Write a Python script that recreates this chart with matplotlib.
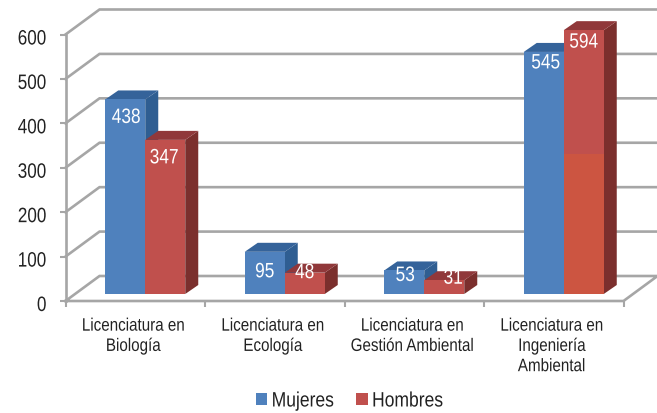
import matplotlib
matplotlib.use('Agg')
import matplotlib.pyplot as plt
from matplotlib.patches import Polygon
from matplotlib.patheffects import AbstractPathEffect
from matplotlib.transforms import Affine2D

plt.rcParams['font.family'] = ['Liberation Sans', 'DejaVu Sans']

categorias = ['Licenciatura en\nBiología', 'Licenciatura en\nEcología',
              'Licenciatura en\nGestión Ambiental', 'Licenciatura en\nIngeniería\nAmbiental']
mujeres = [438, 95, 53, 545]
hombres = [347, 48, 31, 594]
ticks_y = [0, 100, 200, 300, 400, 500, 600]


# the original font is a narrow arial, not installed here: squeeze the glyphs sideways
class Estrecho(AbstractPathEffect):
    def __init__(self, escala, ancla='center', baja=0):
        super().__init__()
        self.escala = escala
        self.ancla = ancla
        self.baja = baja

    def draw_path(self, renderer, gc, tpath, affine, rgbFace=None):
        ext = tpath.get_extents()
        cx = {'left': ext.x0, 'center': (ext.x0 + ext.x1) / 2, 'right': ext.x1}[self.ancla]
        t = Affine2D().translate(-cx, 0).scale(self.escala, 1).translate(cx, 0) + affine
        t = t + Affine2D().translate(0, -self.baja)
        renderer.draw_path(gc, tpath, t, rgbFace)


# figure size in px, plot front plane in px
W, H = 657, 414
X0, X1, Y0, Y1 = 65.5, 623.5, 302, 35.5

fig = plt.figure(figsize=(W / 100, H / 100), dpi=100)
ax = fig.add_axes([X0 / W, 1 - Y0 / H, (X1 - X0) / W, (Y0 - Y1) / H])
ax.set_xlim(0, 4)
ax.set_ylim(0, 600)

sx = (X1 - X0) / 4  # px per category
sy = (Y0 - Y1) / 600  # px per unit


def dx(px):
    return px / sx


def dy(px):
    return px / sy


gris = '#a6a6a6'
# walls
ox, oy = dx(34), dy(25)
for t in ticks_y:
    ax.plot([0, ox, 4 + ox] if t > 0 else [0, ox, 4 + ox, 4, 0], [t, t + oy, t + oy] if t > 0 else [0, oy, oy, 0, 0],
            color=gris, lw=1.9, clip_on=False, zorder=1, solid_joinstyle='miter')
ax.plot([0, 0], [0, 600], color=gris, lw=1.9, clip_on=False, zorder=1)

# bars
w = dx(40)
sh_x, sh_y = dx(10), dy(7)
d_x, d_y = dx(13), dy(9)
azul, azul_lado, azul_top = '#4f81bd', '#2f5e92', '#35639a'
rojo, rojo_lado, rojo_top = '#c0504d', '#7b2f2d', '#90383a'


def barra(x, v, color, lado, top, label=None):
    y0 = sh_y
    ax.bar(x, v, width=w, bottom=y0, align='edge', color=color, zorder=3, clip_on=False, label=label)
    ax.add_patch(Polygon([(x + w, y0), (x + w + d_x, y0 + d_y), (x + w + d_x, y0 + v + d_y), (x + w, y0 + v)],
                         color=lado, lw=0, zorder=2.5, clip_on=False))
    ax.add_patch(Polygon([(x, y0 + v), (x + d_x, y0 + v + d_y), (x + w + d_x, y0 + v + d_y), (x + w, y0 + v)],
                         color=top, lw=0, zorder=2.5, clip_on=False))


for i in range(4):
    xc = i + 0.5 + sh_x
    barra(xc - w, mujeres[i], azul, azul_lado, azul_top, 'Mujeres' if i == 0 else None)
    barra(xc, hombres[i], rojo, rojo_lado, rojo_top, 'Hombres' if i == 0 else None)

# lower part of last red bar is more orange in the original
ax.bar(3.5 + sh_x, 315, width=w, bottom=sh_y, align='edge', color='#cc5541', zorder=3.1, clip_on=False)

# value labels, offset in px from top of bar
off_m = [(1, -18), (0, -20), (1, -5), (2, -11)]
off_h = [(-1, -18), (0, 0), (9, 2), (0, -12)]
for i in range(4):
    xc = i + 0.5 + sh_x
    for xb, v, o in [(xc - w / 2, mujeres[i], off_m[i]), (xc + w / 2, hombres[i], off_h[i])]:
        ax.annotate(str(v), (xb, sh_y + v), xytext=(o[0] * 0.72, o[1] * 0.72), textcoords='offset points',
                    ha='center', va='center', color='white', fontsize=15, zorder=5, annotation_clip=False,
                    path_effects=[Estrecho(0.83)])

# axes
for s in ax.spines.values():
    s.set_visible(False)
ax.set_yticks(ticks_y)
ax.set_xticks(range(5))
ax.set_xticklabels([])
ax.tick_params(axis='y', length=4, width=1.5, color=gris, labelsize=15, pad=9.5, labelcolor='#222222')
ax.tick_params(axis='x', length=4, width=1.5, color=gris)
for lab in ax.get_yticklabels():
    lab.set_path_effects([Estrecho(0.82, 'right', baja=2.5)])
for i, c in enumerate(categorias):
    ax.annotate(c, (i + 0.5, 0), xytext=(-1.5, -12), textcoords='offset points', ha='center', va='top',
                fontsize=13, color='#222222', linespacing=1.25, annotation_clip=False,
                path_effects=[Estrecho(0.84)])

leg = fig.legend(loc='center left', bbox_to_anchor=(237 / W, 1 - 402 / H), ncol=2, frameon=False, fontsize=15,
                 handlelength=0.55, handleheight=0.55, handletextpad=0.2, columnspacing=0.5, labelcolor='#222222')
for t in leg.get_texts():
    t.set_path_effects([Estrecho(0.84, 'left')])

fig.savefig('out.png', dpi=100)
